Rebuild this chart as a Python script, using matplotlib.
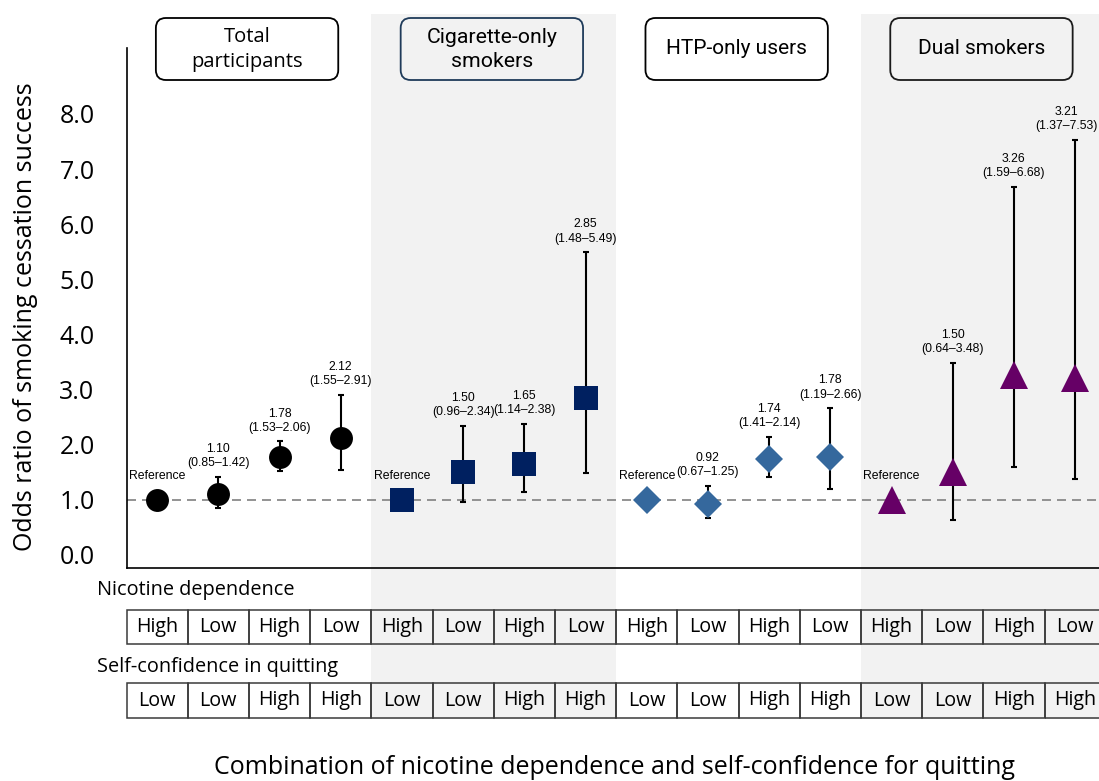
import matplotlib
matplotlib.use("Agg")
import matplotlib.pyplot as plt
from matplotlib.patches import Rectangle, FancyBboxPatch
from matplotlib.transforms import blended_transform_factory, IdentityTransform

# ---------------- data ----------------
group_names = ["Total\nparticipants", "Cigarette-only\nsmokers", "HTP-only users", "Dual smokers"]

or_total = [1.00, 1.10, 1.78, 2.12]
lo_total = [1.00, 0.85, 1.53, 1.55]
hi_total = [1.00, 1.42, 2.06, 2.91]

or_cig = [1.00, 1.50, 1.65, 2.85]
lo_cig = [1.00, 0.96, 1.14, 1.48]
hi_cig = [1.00, 2.34, 2.38, 5.49]

or_htp = [1.00, 0.92, 1.74, 1.78]
lo_htp = [1.00, 0.67, 1.41, 1.19]
hi_htp = [1.00, 1.25, 2.14, 2.66]

or_dual = [1.00, 1.50, 3.26, 3.21]
lo_dual = [1.00, 0.64, 1.59, 1.37]
hi_dual = [1.00, 3.48, 6.68, 7.53]

nicotine = ["High", "Low", "High", "Low", "High", "Low", "High", "Low",
            "High", "Low", "High", "Low", "High", "Low", "High", "Low"]
confidence = ["Low", "Low", "High", "High", "Low", "Low", "High", "High",
              "Low", "Low", "High", "High", "Low", "Low", "High", "High"]

y_ticks = [0.0, 1.0, 2.0, 3.0, 4.0, 5.0, 6.0, 7.0, 8.0]

# ---------------- styles ----------------
MAIN = ["Open Sans", "DejaVu Sans"]
SMALL = ["Liberation Sans", "DejaVu Sans"]
HEAD_NARROW = ["Roboto", "DejaVu Sans"]

series = [
    (or_total, lo_total, hi_total, "o", 16.5, "#000000"),
    (or_cig, lo_cig, hi_cig, "s", 17, "#002060"),
    (or_htp, lo_htp, hi_htp, "D", 13.8, "#35689d"),
    (or_dual, lo_dual, hi_dual, "^", 20, "#660066"),
]
box_edges = ["#000000", "#1f3b5a", "#000000", "#1a1a1a"]
box_fonts = [MAIN, HEAD_NARROW, HEAD_NARROW, HEAD_NARROW]
box_fsize = [14.5, 15.3, 15, 15]

W, H = 1099, 781
fig = plt.figure(figsize=(W / 100, H / 100), dpi=100)
L = 126.5 / W
R = 1105.7 / W
B = 1 - 568 / H
T = 1 - 48 / H
ax = fig.add_axes([L, B, R - L, T - B])
ax.patch.set_visible(False)

blend = blended_transform_factory(ax.transData, fig.transFigure)

# gray bands
for g in (1, 3):
    ax.add_patch(Rectangle((g * 4 - 0.5, 1 - 719 / H), 4, (719 - 14) / H,
                           transform=blend, facecolor="#f2f2f2", edgecolor="none",
                           zorder=0, clip_on=False))

# reference line
ax.axhline(1.0, color="#808080", lw=1.2, dashes=[5.4, 3.6], zorder=1)

# series
n_cols = 16
for gi, (orv, lov, hiv, mk, ms, col) in enumerate(series):
    xs = [gi * 4 + i for i in range(4)]
    ex, ey, elo, ehi = [], [], [], []
    for x, o, lo, hi in zip(xs, orv, lov, hiv):
        if lo == hi:
            ax.annotate("Reference", (x, o), xytext=(0, 17.5), textcoords="offset points",
                        ha="center", va="center", fontsize=8.8, family=SMALL, zorder=5)
        else:
            ex.append(x); ey.append(o); elo.append(o - lo); ehi.append(hi - o)
            dx = -6 if x == n_cols - 1 else 0
            ax.annotate(f"{o:.2f}\n({lo:.2f}\u2013{hi:.2f})", (x, hi), xytext=(dx, 5.5),
                        textcoords="offset points", ha="center", va="bottom",
                        fontsize=8.8, family=SMALL, linespacing=1.25, zorder=5)
    ax.errorbar(ex, ey, yerr=[elo, ehi], fmt="none", ecolor="black",
                elinewidth=1.5, capsize=2, capthick=1.5, zorder=2)
    ax.plot(xs, orv, linestyle="none", marker=mk, markersize=ms, color=col,
            markeredgewidth=0, zorder=3)

ax.set_xlim(-0.5, 15.5)
ax.set_ylim(-13 / 55.14, 507 / 55.14)
ax.set_xticks([])
ax.set_yticks(y_ticks)
ax.set_yticklabels([f"{v:.1f}" for v in y_ticks], fontsize=18, family=MAIN)
ax.tick_params(axis="y", length=0, pad=23)
for s in ("top", "right"):
    ax.spines[s].set_visible(False)
for s in ("left", "bottom"):
    ax.spines[s].set_linewidth(1.2)
    ax.spines[s].set_color("black")

# tables
rows = [(nicotine, 610, 644), (confidence, 683, 718)]
for labels, ytop, ybot in rows:
    y0 = 1 - ybot / H
    hgt = (ybot - ytop) / H
    for i, lab in enumerate(labels):
        ax.add_patch(Rectangle((i - 0.5, y0), 1, hgt, transform=blend, fill=False,
                               edgecolor="#3a3a3a", lw=1.1, zorder=4, clip_on=False))
        ax.text(i, y0 + hgt / 2, lab, transform=blend, ha="center", va="center",
                fontsize=14.2, family=MAIN, clip_on=False, zorder=5)

fig.text(97 / W, 1 - 590 / H, "Nicotine dependence", ha="left", va="center",
         fontsize=14.3, family=MAIN)
fig.text(97 / W, 1 - 667 / H, "Self-confidence in quitting", ha="left", va="center",
         fontsize=14.3, family=MAIN)

fig.text(614 / W, 1 - 768 / H,
         "Combination of nicotine dependence and self-confidence for quitting",
         ha="center", va="center", fontsize=18, family=MAIN)
fig.text(26 / W, 1 - 317 / H, "Odds ratio of smoking cessation success",
         ha="center", va="center", rotation=90, fontsize=18, family=MAIN)

# group header boxes
text_y = [49.5, 49.5, 49, 48]
for k, name in enumerate(group_names):
    c = 4 * k + 1.5
    x0 = ax.transData.transform((c - 1.52, 0))[0]
    x1 = ax.transData.transform((c + 1.46, 0))[0]
    box = FancyBboxPatch((x0, H - 80), x1 - x0, 62,
                         boxstyle="round,pad=0,rounding_size=10",
                         transform=IdentityTransform(), fill=False,
                         edgecolor=box_edges[k], lw=1.3)
    fig.add_artist(box)
    fig.text((x0 + x1) / 2 / W, 1 - text_y[k] / H, name, ha="center", va="center",
             fontsize=box_fsize[k], family=box_fonts[k], linespacing=1.3)

fig.savefig("out.png", dpi=100)
